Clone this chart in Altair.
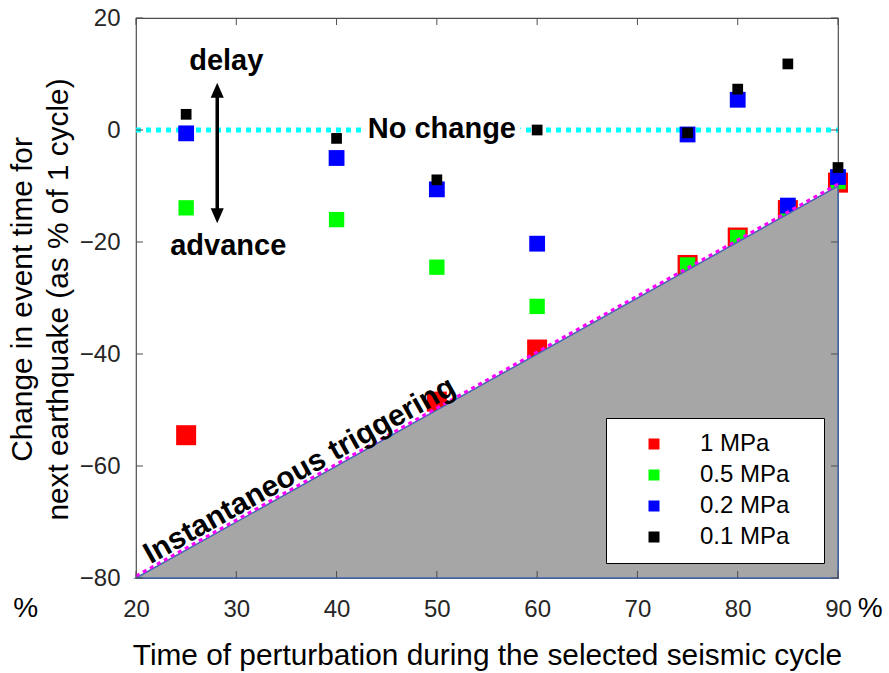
import altair as alt
import pandas as pd

# ---------------- data ----------------
times = [25, 40, 50, 60, 75, 80, 85, 90]
change_1mpa = [-54.5, None, -48.5, -39.2, -24.1, -19.2, -14.3, -9.4]
change_05mpa = [-13.9, -16.0, -24.5, -31.5, -24.1, -19.2, -14.4, -9.2]
change_02mpa = [-0.6, -5.0, -10.6, -20.3, -0.8, 5.4, -13.5, -8.4]
change_01mpa = [2.8, -1.5, -8.9, 0.0, -0.5, 7.3, 11.8, -6.7]
series_names = ["1 MPa", "0.5 MPa", "0.2 MPa", "0.1 MPa"]
series_colors = ["#ff0000", "#00ff00", "#0000ff", "#000000"]
marker_area = [400, 235, 250, 115]

x_ticks = [20, 30, 40, 50, 60, 70, 80, 90]
y_ticks = [20, 0, -20, -40, -60, -80]
x_domain = [20, 90]
y_domain = [-80, 20]

# instantaneous triggering limit (y = x - 100) and the no-change line
trigger_x = [20, 90]
trigger_y = [-80, -10]
nochange_x = [20, 90]
nochange_y = [0, 0]

# annotations (data coordinates)
arrow_x = [28.1]
arrow_head_up_y = [7.1]
arrow_head_down_y = [-15.3]

W, H = 702, 560
AXIS_COLOR = "#4d4d4d"
FONT = "Liberation Sans"

# ---------------- tables ----------------
rows = []
for name, vals, area in zip(series_names,
                            [change_1mpa, change_05mpa, change_02mpa, change_01mpa],
                            marker_area):
    for t, v in zip(times, vals):
        if v is not None:
            rows.append({"x": t, "y": v, "series": name, "area": area})
pts = pd.DataFrame(rows)
pts["order"] = range(len(pts))

tri = pd.DataFrame({"x": trigger_x, "y": trigger_y, "y2": [y_domain[0]] * 2})
nochange = pd.DataFrame({"x": nochange_x, "y": nochange_y})

xs = alt.Scale(domain=x_domain, nice=False, zero=False)
ys = alt.Scale(domain=y_domain, nice=False, zero=False)

X_TITLE = "Time of perturbation during the selected seismic cycle"
Y_TITLE = ["Change in event time for", "next earthquake (as % of 1 cycle)"]

x_axis = alt.Axis(values=x_ticks, labelFlush=False, labelOverlap=False,
                  labelFontSize=24, labelColor="#262626", labelPadding=19,
                  ticks=False, tickSize=0, domain=False, grid=False,
                  title=X_TITLE,
                  titleFontSize=29.8, titleFontWeight="normal", titleColor="black",
                  titleY=86, titleBaseline="alphabetic")
y_axis = alt.Axis(values=y_ticks, labelOverlap=False,
                  labelFontSize=24, labelColor="#262626", labelPadding=16,
                  ticks=False, tickSize=0, domain=False, grid=False,
                  title=Y_TITLE,
                  titleFontSize=29.8, titleFontWeight="normal", titleColor="black",
                  titleAngle=270, titleX=-105, titleY=H / 2 + 1, titleAlign="center",
                  titleBaseline="alphabetic", titleLineHeight=36)


def X():
    return alt.X("x:Q", scale=xs, axis=x_axis, title=X_TITLE)


def Y():
    return alt.Y("y:Q", scale=ys, axis=y_axis, title=Y_TITLE)


# no-change line
cyan = alt.Chart(nochange).mark_line(color="#00ffff", strokeWidth=5, strokeDash=[5, 5]).encode(x=X(), y=Y())

# markers
markers = alt.Chart(pts).mark_square(filled=True, opacity=1).encode(
    x=X(), y=Y(),
    color=alt.Color("series:N",
                    scale=alt.Scale(domain=series_names, range=series_colors),
                    legend=alt.Legend(title=None, orient="none", legendX=470, legendY=400,
                                      fillColor="white", strokeColor="black",
                                      padding=14, symbolType="square", symbolSize=121,
                                      symbolStrokeWidth=0, symbolOffset=22,
                                      labelOffset=34, labelFontSize=24, labelFont=FONT,
                                      labelColor="black", rowPadding=7,
                                      labelExpr="datum.label + '\u00a0\u00a0\u00a0\u200b'")),
    size=alt.Size("area:Q", scale=None, legend=None),
    order=alt.Order("order:Q"),
)

# triangle of instantaneous triggering
triangle = alt.Chart(tri).mark_area(fill="#a6a6a6", stroke="#4468b0", strokeWidth=1.5, opacity=1).encode(
    x=X(), y=Y(), y2="y2:Q")
magenta = alt.Chart(tri).mark_line(color="#ff00ff", strokeWidth=3, strokeDash=[4, 4], yOffset=-2).encode(
    x=X(), y=Y())

# inward ticks
xt = pd.DataFrame({"x": x_ticks})
yt = pd.DataFrame({"y": y_ticks})
tick_bottom = alt.Chart(xt).mark_rule(color=AXIS_COLOR, strokeWidth=1).encode(
    x=X(), y=alt.value(H), y2=alt.value(H - 7))
tick_top = alt.Chart(xt).mark_rule(color=AXIS_COLOR, strokeWidth=1).encode(
    x=X(), y=alt.value(0), y2=alt.value(7))
tick_left = alt.Chart(yt).mark_rule(color=AXIS_COLOR, strokeWidth=1).encode(
    y=Y(), x=alt.value(0), x2=alt.value(7))
tick_right = alt.Chart(yt).mark_rule(color=AXIS_COLOR, strokeWidth=1).encode(
    y=Y(), x=alt.value(W), x2=alt.value(W - 7))


def text_layer(xv, yv, txt, **kw):
    df = pd.DataFrame({"x": xv, "y": yv, "t": txt})
    return alt.Chart(df).mark_text(**kw).encode(x=X(), y=Y(), text="t:N")


bold = dict(font=FONT, fontWeight="bold", fontSize=29, color="black", align="center", baseline="alphabetic")
delay_t = text_layer([29.0], [10.7], ["delay"], **bold)
advance_t = text_layer([29.2], [-22.3], ["advance"], **bold)
nochange_halo = text_layer([50.5], [-1.4], ["No change"], font=FONT, fontWeight="bold", fontSize=29,
                           color="white", stroke="white", strokeWidth=10, align="center", baseline="alphabetic")
nochange_t = text_layer([50.5], [-1.4], ["No change"], **bold)
trig_t = text_layer([37.0], [-63.0], ["Instantaneous triggering"], font=FONT, fontWeight="bold", fontSize=30,
                    color="black", align="center", baseline="alphabetic", angle=330.8, dy=-5)
pct_t = text_layer([9.0, 93.2], [-85.5, -85.5], ["%", "%"], font=FONT, fontSize=28, color="black",
                   align="center", baseline="middle")

# double arrow
arr = pd.DataFrame({"x": arrow_x, "y": arrow_head_up_y, "y2": arrow_head_down_y})
arrow_shaft = alt.Chart(arr).mark_rule(color="black", strokeWidth=3.5).encode(x=X(), y=Y(), y2="y2:Q")
head_up = alt.Chart(arr).mark_point(shape="M0,-1L0.87,1L-0.87,1Z", filled=True, opacity=1, color="black",
                                    size=225).encode(x=X(), y=Y())
arr_down = pd.DataFrame({"x": arrow_x, "y": arrow_head_down_y})
head_down = alt.Chart(arr_down).mark_point(shape="M0,1L0.87,-1L-0.87,-1Z", filled=True, opacity=1,
                                           color="black", size=225).encode(x=X(), y=Y())

chart = alt.layer(
    cyan, markers, triangle, magenta,
    tick_bottom, tick_top, tick_left, tick_right,
    delay_t, advance_t, nochange_halo, nochange_t, trig_t, pct_t,
    arrow_shaft, head_up, head_down,
).properties(
    width=W, height=H,
    autosize=alt.AutoSizeParams(type="none"),
    padding={"left": 136, "top": 18, "right": 51, "bottom": 95},
    background="white",
).configure(font=FONT).configure_view(stroke=AXIS_COLOR, strokeWidth=1.2)

chart.save("out.html", embed_options={"renderer": "svg", "actions": False})
